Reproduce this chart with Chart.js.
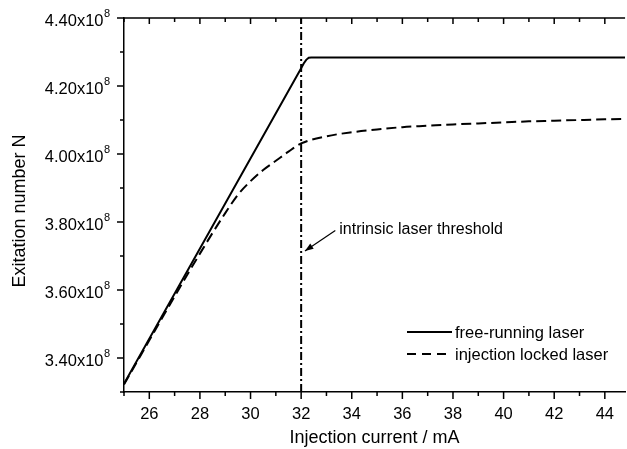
<!DOCTYPE html>
<html>
<head>
<meta charset="utf-8">
<script src="https://cdn.jsdelivr.net/npm/chart.js@4.4.1/dist/chart.umd.min.js"></script>
<style>
  html, body { margin: 0; padding: 0; background: #fff; }
  #wrap { width: 627px; height: 449px; }
</style>
</head>
<body>
<div id="wrap"><canvas id="chart" width="627" height="449"></canvas></div>
<script>
// Data (y in units of 1e8)
const freeX = [25, 32, 32.1, 32.2, 32.3, 32.4, 44.8];
const freeY = [3.324, 4.252, 4.266, 4.277, 4.283, 4.284, 4.284];

const lockedX = [25, 25.5, 26, 26.5, 27, 27.5, 28, 28.5, 29, 29.5, 30, 30.5, 31, 31.5, 32,
                 33, 34, 35, 36, 37, 38, 39, 40, 41, 42, 43, 44, 44.8];
const lockedY = [3.322, 3.387, 3.452, 3.517, 3.581, 3.645, 3.707, 3.768, 3.826, 3.880, 3.920, 3.953, 3.980, 4.007, 4.031,
                 4.052, 4.064, 4.072, 4.079, 4.083, 4.087, 4.090, 4.093, 4.096, 4.098, 4.100, 4.102, 4.103];

const thresholdX = 32;
const legendLabels = ["free-running laser", "injection locked laser"];
const annotationText = "intrinsic laser threshold";
const arrowFrom = { x: 33.35, y: 3.775 };
const arrowTo = { x: 32.15, y: 3.715 };

const toPoints = (xs, ys) => xs.map((x, i) => ({ x, y: ys[i] }));

const FONT = "'Liberation Sans', Arial, Helvetica, sans-serif";

// Extra drawing: frame ticks, y labels with superscript, legend, annotation, titles
const decorations = {
    id: "decorations",
    afterDraw(chart) {
        const { ctx, chartArea, scales } = chart;
        const x = scales.x, y = scales.y;
        ctx.save();
        ctx.strokeStyle = "#000";
        ctx.fillStyle = "#000";
        ctx.lineWidth = 1.5;

        // top frame with inward ticks, bottom ticks outward
        ctx.beginPath();
        ctx.moveTo(chartArea.left, chartArea.top);
        ctx.lineTo(chartArea.right, chartArea.top);
        x.ticks.forEach(t => {
            const px = x.getPixelForValue(t.value);
            const major = Math.round(t.value) % 2 === 0;
            ctx.moveTo(px, chartArea.top);
            ctx.lineTo(px, chartArea.top + (major ? 6 : 4));
            ctx.moveTo(px, chartArea.bottom);
            ctx.lineTo(px, chartArea.bottom + (major ? 7 : 4));
        });
        // left ticks outward
        y.ticks.forEach(t => {
            const py = y.getPixelForValue(t.value);
            const major = Math.round(t.value * 10) % 2 === 0;
            ctx.moveTo(chartArea.left, py);
            ctx.lineTo(chartArea.left - (major ? 7 : 4), py);
        });
        ctx.stroke();

        // y tick labels like 4.40x10^8
        y.ticks.forEach(t => {
            const k = Math.round(t.value * 10);
            if (k % 2 !== 0) return;
            const py = y.getPixelForValue(t.value);
            ctx.font = "16.5px " + FONT;
            ctx.textAlign = "right";
            ctx.textBaseline = "alphabetic";
            ctx.fillText((k / 10).toFixed(2) + "x10", 103.5, py + 7.5);
            ctx.font = "11px " + FONT;
            ctx.textAlign = "left";
            ctx.fillText("8", 104, py - 1);
        });

        // legend
        const lx0 = 407, lx1 = 452, ly = [332, 354];
        ctx.lineWidth = 2;
        ctx.beginPath();
        ctx.moveTo(lx0, ly[0]); ctx.lineTo(lx1, ly[0]);
        ctx.stroke();
        ctx.setLineDash([9, 6]);
        ctx.beginPath();
        ctx.moveTo(lx0, ly[1]); ctx.lineTo(lx1, ly[1]);
        ctx.stroke();
        ctx.setLineDash([]);
        ctx.font = "16.5px " + FONT;
        ctx.textAlign = "left";
        ctx.textBaseline = "middle";
        ctx.fillText(legendLabels[0], 455, ly[0] + 1);
        ctx.fillText(legendLabels[1], 455, ly[1] + 1);

        // annotation with arrow
        const ax0 = x.getPixelForValue(arrowFrom.x), ay0 = y.getPixelForValue(arrowFrom.y);
        const ax1 = x.getPixelForValue(arrowTo.x), ay1 = y.getPixelForValue(arrowTo.y);
        ctx.lineWidth = 1.2;
        ctx.beginPath();
        ctx.moveTo(ax0, ay0); ctx.lineTo(ax1, ay1);
        ctx.stroke();
        const ang = Math.atan2(ay1 - ay0, ax1 - ax0);
        ctx.beginPath();
        ctx.moveTo(ax1, ay1);
        ctx.lineTo(ax1 - 9 * Math.cos(ang - 0.35), ay1 - 9 * Math.sin(ang - 0.35));
        ctx.lineTo(ax1 - 9 * Math.cos(ang + 0.35), ay1 - 9 * Math.sin(ang + 0.35));
        ctx.closePath();
        ctx.fill();
        ctx.font = "16px " + FONT;
        ctx.fillText(annotationText, ax0 + 4, ay0 - 1);

        // axis titles
        ctx.font = "18px " + FONT;
        ctx.textAlign = "center";
        ctx.fillText("Injection current / mA", (chartArea.left + chartArea.right) / 2, 438);
        ctx.save();
        ctx.translate(20, 211);
        ctx.rotate(-Math.PI / 2);
        ctx.fillText("Exitation number N", 0, 0);
        ctx.restore();

        ctx.restore();
    }
};

new Chart(document.getElementById("chart"), {
    type: "line",
    data: {
        datasets: [
            {
                label: legendLabels[0],
                data: toPoints(freeX, freeY),
                borderColor: "#000",
                borderWidth: 2,
                pointRadius: 0,
                tension: 0
            },
            {
                label: legendLabels[1],
                data: toPoints(lockedX, lockedY),
                borderColor: "#000",
                borderWidth: 2,
                borderDash: [10, 5],
                pointRadius: 0,
                cubicInterpolationMode: "monotone"
            },
            {
                label: "threshold",
                data: [{ x: thresholdX, y: 3.3 }, { x: thresholdX, y: 4.4 }],
                borderColor: "#000",
                borderWidth: 2,
                borderDash: [8, 3, 2, 3],
                pointRadius: 0
            }
        ]
    },
    options: {
        responsive: false,
        animation: false,
        devicePixelRatio: 1,
        layout: { padding: { top: 18, right: 0, left: 0, bottom: 0 } },
        plugins: {
            legend: { display: false },
            tooltip: { enabled: false }
        },
        scales: {
            x: {
                type: "linear",
                min: 25,
                max: 44.8,
                afterFit(scale) { scale.height = 57; },
                border: { color: "#000", width: 1.5 },
                grid: { drawOnChartArea: false, drawTicks: false },
                ticks: {
                    stepSize: 1,
                    includeBounds: false,
                    autoSkip: false,
                    maxRotation: 0,
                    padding: 13,
                    color: "#000",
                    font: { size: 16.5, family: FONT },
                    callback: v => (Math.round(v) % 2 === 0 ? String(Math.round(v)) : "")
                }
            },
            y: {
                min: 3.3,
                max: 4.4,
                afterFit(scale) { scale.width = 124; },
                border: { color: "#000", width: 1.5 },
                grid: { drawOnChartArea: false, drawTicks: false },
                ticks: {
                    stepSize: 0.1,
                    autoSkip: false,
                    callback: () => ""
                }
            }
        }
    },
    plugins: [decorations]
});
</script>
</body>
</html>
